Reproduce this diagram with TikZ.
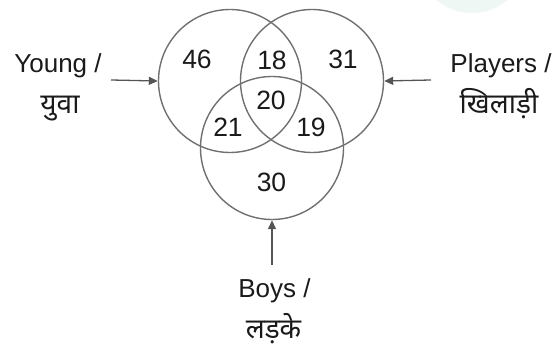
\documentclass[tikz,border=0pt]{standalone}
\usepackage{fontspec}
\setmainfont{Liberation Sans}
\newfontfamily\devfont[Script=Devanagari]{Noto Sans}
\usetikzlibrary{arrows.meta}
\definecolor{ringgray}{HTML}{707070}
\definecolor{arrgray}{HTML}{555555}
\definecolor{txt}{HTML}{1A1A1A}
\definecolor{wm}{HTML}{EEF7F4}
\begin{document}
\begin{tikzpicture}[x=1pt,y=-1pt,
  ring/.style={circle,draw=ringgray,line width=1.4pt,minimum size=143pt,inner sep=0pt},
  num/.style={anchor=base,text=txt,inner sep=0pt,font=\fontsize{26.5}{30}\selectfont},
  lab/.style={anchor=base,text=txt,inner sep=0pt,font=\fontsize{26}{30}\selectfont},
  hin/.style={anchor=base,text=txt,inner sep=0pt,font=\devfont\fontsize{28}{32}\selectfont},
  arr/.style={draw=arrgray,line width=1.3pt,-{Triangle[length=9pt,width=8pt]}}]
\useasboundingbox (0,0) rectangle (555,347);
\fill[wm] (472,-42) circle (55);
\node[ring] (Y) at (230,81) {};
\node[ring] (P) at (312,81) {};
\node[ring] (B) at (272,148) {};
\node[num] (n46) at (197,69) {46};
\node[num] (n18) at (272,70) {18};
\node[num] (n31) at (343,69) {31};
\node[num] (n20) at (271,110) {20};
\node[num] (n21) at (228,137) {21};
\node[num] (n19) at (311,137) {19};
\node[num] (n30) at (271.5,192) {30};
\node[lab] (ly) at (58,73) {Young /};
\node[hin] (hy) at (60,114) {युवा};
\node[lab] (lp) at (501,73) {Players /};
\node[hin] (hp) at (499,114) {खिलाड़ी};
\node[lab] (lb) at (274.5,298) {Boys /};
\node[hin] (hb) at (273.5,339) {लड़के};
\coordinate (ya) at (111,80);
\coordinate (pa) at (431,80);
\coordinate (ba) at (272,265);
\draw[arr] (ya) -- (Y.west);
\draw[arr] (pa) -- (P.east);
\draw[arr] (ba) -- (B.south);
\end{tikzpicture}
\end{document}
